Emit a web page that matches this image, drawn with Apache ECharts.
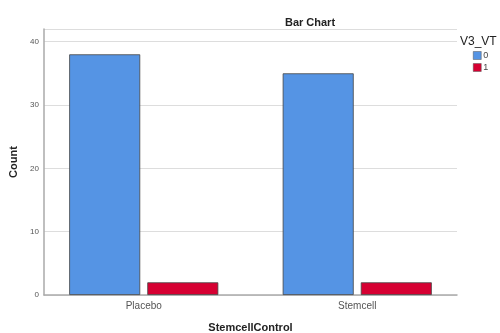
<!DOCTYPE html>
<html><head><meta charset="utf-8">
<script src="https://cdn.jsdelivr.net/npm/echarts@6/dist/echarts.min.js"></script>
<style>html,body{margin:0;padding:0;background:#fff}#c{width:500px;height:333px}</style>
</head><body><div id="c"></div>
<script>
const categories = ['Placebo', 'Stemcell'];
const seriesNames = ['0', '1'];
const values0 = [38, 35];
const values1 = [2, 2];
const yTicks = [0, 10, 20, 30, 40];

const chart = echarts.init(document.getElementById('c'), null, {renderer: 'canvas'});
const font = 'Liberation Sans, Arial, sans-serif';
chart.setOption({
  animation: false,
  title: [
    {text: 'Bar Chart', left: 305, top: 12, textAlign: 'center',
     textStyle: {fontFamily: font, fontSize: 11, fontWeight: 'bold', color: '#222'}},
    {text: 'V3_VT', left: 455, top: 31,
     textStyle: {fontFamily: font, fontSize: 12, fontWeight: 'normal', color: '#222'}}
  ],
  legend: {
    orient: 'vertical', left: 468, top: 46, itemWidth: 8, itemHeight: 8, itemGap: 3,
    icon: 'rect',
    itemStyle: {borderWidth: 0.5, borderColor: '#555'},
    textStyle: {fontFamily: font, fontSize: 9, color: '#444', padding: [0,0,0,-3]},
    data: seriesNames
  },
  grid: [
    {left: 37, right: 36, top: 29, bottom: 38, containLabel: false, outerBoundsMode: 'none'},
    {left: 44, right: 43, top: 29, bottom: 38, containLabel: false, outerBoundsMode: 'none'}
  ],
  xAxis: [
    {
      type: 'category', data: categories, gridIndex: 0,
      axisLine: {show: false},
      axisTick: {show: false},
      axisLabel: {fontFamily: font, fontSize: 10, color: '#555', margin: 6}
    },
    {
      type: 'category', data: categories, gridIndex: 1,
      name: 'StemcellControl', nameLocation: 'middle', nameGap: 27,
      nameTextStyle: {fontFamily: font, fontSize: 11, fontWeight: 'bold', color: '#222'},
      axisLine: {lineStyle: {color: '#aaa', width: 1.5}},
      axisTick: {show: false},
      axisLabel: {show: false}
    }
  ],
  yAxis: [
    {
      type: 'value', gridIndex: 0, min: 0, max: 42, interval: 10, show: false,
      splitLine: {show: false}
    },
    {
      type: 'value', gridIndex: 1, min: 0, max: 42, interval: 10,
      name: 'Count', nameLocation: 'middle', nameGap: 23,
      nameTextStyle: {fontFamily: font, fontSize: 11, fontWeight: 'bold', color: '#222'},
      axisLine: {show: true, lineStyle: {color: '#aaa', width: 1.5}},
      axisTick: {show: false},
      axisLabel: {fontFamily: font, fontSize: 8, color: '#555', margin: 5,
        formatter: v => yTicks.includes(v) ? String(v) : ''},
      splitLine: {lineStyle: {color: '#ddd', width: 1.2}}
    }
  ],
  series: [
    {name: seriesNames[0], type: 'bar', xAxisIndex: 0, yAxisIndex: 0, data: values0,
     barWidth: 71, barGap: '10%', z: 3,
     itemStyle: {color: '#5594e4', borderColor: '#444', borderWidth: 0.8}},
    {name: seriesNames[1], type: 'bar', xAxisIndex: 0, yAxisIndex: 0, data: values1,
     barWidth: 71, z: 3,
     itemStyle: {color: '#d60032', borderColor: '#444', borderWidth: 0.8}}
  ]
});
</script></body></html>
